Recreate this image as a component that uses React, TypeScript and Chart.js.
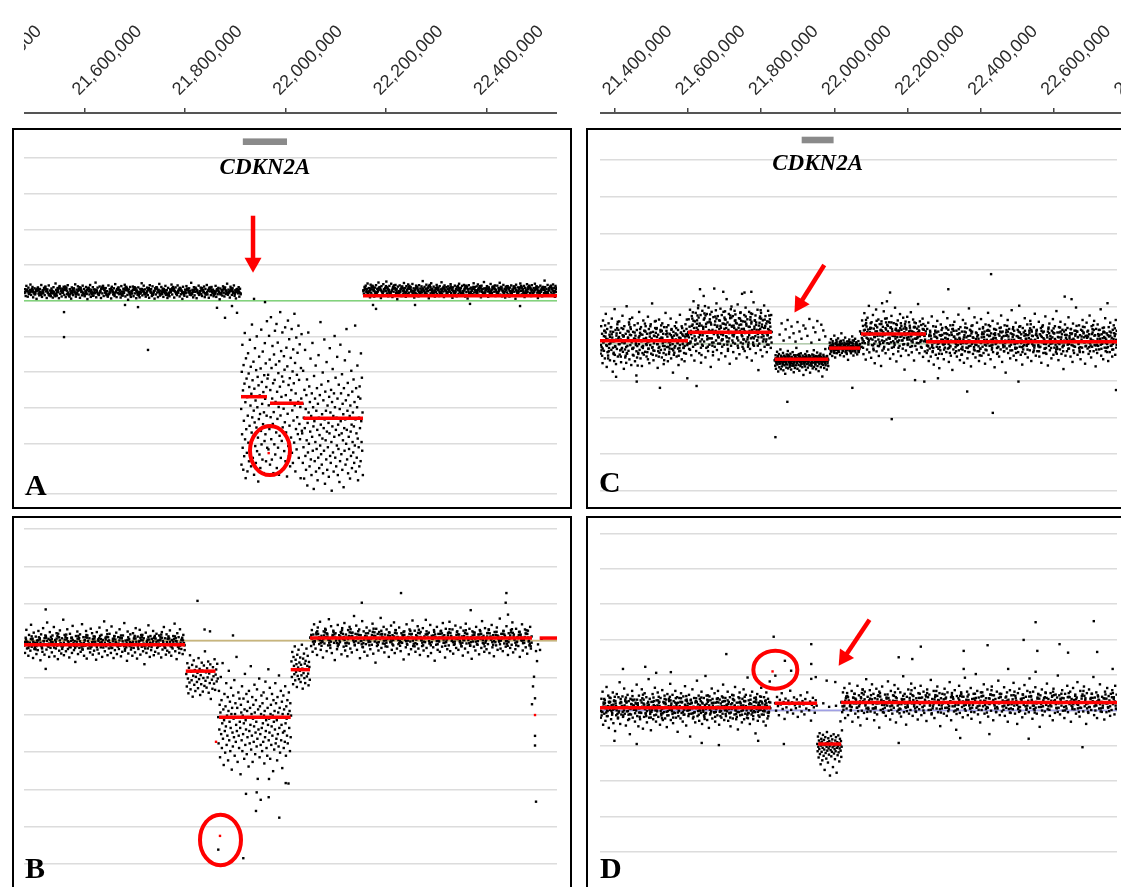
import React, { useEffect, useRef } from "react";
import { Chart, registerables } from "chart.js";

Chart.register(...registerables);

// ================= DATA =================
// genomic axis ticks (bp)
const TICKS_LEFT = [21400000, 21600000, 21800000, 22000000, 22200000, 22400000, 22600000];
const TICKS_RIGHT = [21200000, 21400000, 21600000, 21800000, 22000000, 22200000, 22400000, 22600000, 22800000];

// genomic window shown in each column (bp)
const RANGE_LEFT = [21479100, 22540800];
const RANGE_RIGHT = [21358950, 22784400];

const GENE_NAME = "CDKN2A";
const GENE_SPAN = [21915000, 22003000];

// horizontal grid values (log-ratio units)
const GRID_A = [4, 3, 2, 1, 0, -1, -2, -3, -4, -5.4];
const GRID_B = [3, 2, 1, 0, -1, -2, -3, -4, -5, -6];
const GRID_C = [5, 4, 3, 2, 1, 0, -1, -2, -3, -4];
const GRID_D = [5, 4, 3, 2, 1, 0, -1, -2, -3, -4];

// probe clouds: [start bp, end bp, low value, high value, probe values as % of low..high]
type Cloud = [number, number, number, number, string];

// ---------- Panel A ----------
const A_CLOUDS: Cloud[] = [
  [21479100, 21911400, -0.06, 0.55, `
45 62 31 77 54 28 69 40 58 83 36 51 72 25 47 66 39 60 18 55
70 42 34 63 49 81 27 57 44 68 35 74 52 22 61 46 79 38 56 30
65 43 24 71 50 37 88 59 33 67 48 21 76 41 53 29 64 45 73 36
58 26 69 39 80 47 32 62 55 19 70 44 35 66 51 84 28 60 42 75
37 57 23 68 49 34 78 46 63 30 54 72 40 17 65 52 38 81 27 59
48 71 33 61 44 92 25 56 69 41 36 74 50 22 64 43 77 31 58 46
67 35 53 28 79 40 62 47 20 73 55 38 66 31 85 49 26 60 44 70
39 58 24 76 51 33 64 45 82 29 57 68 36 14 61 48 72 27 54 42
74 30 59 43 67 21 56 37 70 50 25 63 46 89 34 52 78 40 61 28
45 69 35 57 23 80 48 62 31 75 41 53 19 66 38 71 47 26 59 86
33 55 72 40 64 27 50 43 77 36 58 22 68 45 30 61 49 83 38 56
63 24 52 70 41 35 79 46 57 29 67 39 54 18 73 48 32 60 44 76
28 62 47 66 37 55 91 42 59 25 71 34 50 64 21 57 45 78 36 53
69 40 31 58 49 74 26 63 43 81 38 56 23 67 52 35 72 47 60 30
54 44 77 27 61 39 68 51 16 65 42 58 33 75 46 29 70 41 55 87
37 60 48 24 73 53 36 66 45 79 32 57 20 62 50 43 71 28 64 39`],
  [21479100, 21911400, -0.06, 0.55, `
50 47 55 60 52 44 41 49 58 63 57 48 39 45 53 61 66 59 50 42
36 43 51 57 64 70 62 54 46 38 33 40 48 56 52 45 37 30 41 49
58 67 72 65 56 47 53 60 68 74 63 55 44 35 28 39 46 54 62 57
49 43 38 47 55 63 71 66 58 51 45 40 34 42 50 59 64 69 61 53
46 39 32 44 52 60 57 48 41 36 45 54 63 70 76 67 59 51 43 37
31 40 48 56 65 58 50 44 38 47 55 62 68 60 53 45 39 34 43 52
61 69 73 64 56 49 42 35 46 53 59 66 71 62 55 47 40 33 41 50
57 63 58 51 45 38 44 52 60 67 61 54 46 41 36 48 55 62 70 65
57 50 43 37 42 49 56 63 58 52 46 39 33 40 47 53 60 66 72 64
55 48 42 47 54 61 68 62 56 49 44 38 45 51 58 65 59 53 46 41
35 43 50 57 64 69 60 52 45 39 46 54 61 67 58 50 44 37 42 49
56 63 70 66 59 51 43 36 40 48 55 62 57 49 42 38 45 53 60 68
64 57 50 44 39 47 54 61 66 58 51 45 40 48 55 63 59 52 46 43`],
  [22154400, 22540800, -0.06, 0.61, `
52 38 66 29 71 44 57 80 35 61 48 23 75 42 55 33 68 50 26 63
41 73 36 58 47 84 30 64 53 20 69 45 37 77 56 32 60 49 88 39
62 27 54 70 43 35 79 51 24 66 46 59 31 74 40 57 15 67 48 34
72 44 56 28 63 50 38 82 45 61 25 69 53 36 76 42 58 30 65 47
33 78 49 60 22 55 41 71 37 64 52 27 73 46 59 34 68 43 90 51
29 66 40 57 75 35 62 48 19 70 54 39 81 44 58 31 67 50 26 61
45 74 36 53 63 28 69 42 56 85 38 60 47 24 72 51 33 65 40 57
68 30 59 46 77 41 54 21 64 49 35 71 43 58 27 66 52 37 79 45
55 62 32 70 48 39 74 53 26 61 44 67 18 56 73 40 59 34 63 50
36 57 81 43 65 29 52 68 41 76 33 55 47 62 23 71 45 58 38 86
60 42 54 31 69 47 25 64 57 37 78 50 40 66 32 59 46 72 28 53
44 71 38 61 50 83 34 56 65 27 48 74 39 58 22 67 53 43 69 35
57 26 63 48 72 40 55 30 68 46 61 17 75 51 37 64 44 59 33 80
49 66 35 58 43 70 24 62 52 39 77 45 56 31 68 41 60 28 73 54
38 61 47 79 32 55 67 42 20 64 50 36 71 46 58 27 63 53 40 92
65 33 57 44 74 37 60 51 29 68 43 56 35 76 48 62 25 70 45 59`],
  [22154400, 22540800, -0.06, 0.61, `
48 54 61 57 50 43 38 46 53 59 66 71 63 55 47 41 36 44 52 60
65 58 51 45 39 47 56 62 69 64 57 49 42 37 43 50 58 66 72 61
53 46 40 35 42 49 57 63 68 60 52 45 38 44 51 59 65 70 62 54
47 41 36 45 53 61 67 59 50 43 39 46 54 60 57 49 42 38 47 55
63 69 74 65 56 48 41 35 43 52 58 64 60 53 46 40 45 51 58 66
62 55 49 43 38 46 54 61 68 63 56 50 44 39 48 57 64 70 61 52
45 40 34 42 50 58 65 71 64 56 47 41 37 44 52 59 66 60 53 46
41 48 56 63 69 62 54 47 40 35 43 51 60 67 58 50 44 39 46 55
61 68 64 57 50 43 37 45 53 60 66 59 51 44 40 47 55 62 69 63
56 49 42 38 46 54 61 67 60 52 45 41 48 57 64 70 62 54 47 40
36 44 51 59 65 71 63 55 48 42 38 46 53 61 68 58 50 43 39 45
52 60 66 61 54 47 41 36 44 53 59 65 71 62 55 48 42 49 57 63`],
  [21911400, 21965100, -5.16, -0.48, `
45 12 67 30 83 22 56 9 71 38 17 60 90 27 49 4 75 33 63 19
52 8 41 78 25 66 14 58 35 86 21 47 70 11 54 31 95 40 62 16
29 73 44 6 57 37 81 23 50 13 68 34 88 20 46 64 28 2 59 39
76 18 53 42 10 69 32 92 24 61 48 15 79 36 55 7 43 65 26 84
51 30 72 14 58 41 97 22 63 35`],
  [21965100, 22032900, -5.02, -0.32, `
62 18 44 85 30 71 9 53 37 96 24 66 12 48 79 33 57 4 40 74
21 59 88 15 46 68 28 92 7 52 36 81 19 63 43 3 70 26 55 99
38 13 76 49 23 61 87 31 6 58 42 73 17 65 34 90 11 50 28 78
45 2 67 39 94 20 56 14 83 32 60 8 47 72 25 53 89 16 41 64
10 77 35 57 22 98 44 69 5 51 30 84 18 62 37 75 27 46 91 13
59 33 80 24 43 1 66 48 86 29`],
  [22032900, 22154400, -5.42, -0.6, `
35 52 18 71 27 44 9 60 38 83 22 49 14 57 31 66 5 41 24 93
47 29 62 16 53 36 78 20 45 11 58 33 87 25 50 39 3 68 42 19
55 30 74 13 48 26 61 37 8 52 21 80 44 15 34 57 28 99 40 23
63 17 46 32 70 12 54 38 25 89 43 6 59 31 48 20 76 36 14 51
27 65 41 10 56 35 84 22 47 18 60 30 2 53 39 72 24 45 13 58
33 91 50 21 67 37 16 44 28 79 55 11 40 26 63 34 7 49 19 86
42 58 23 35 69 14 52 31 46 4 61 38 25 77 43 17 54 29 95 37
20 48 64 12 57 33 26 82 45 9 51 36 22 71 40 15 59 30 47 24
66 39 18 53 28 97 43 13 61 35 21 50 74 32 8 56 27 44 16 62
38 55 19 81 42 30 67 25 47 11`],
];
const A_SEGMENTS: [number, number, number][] = [
  [21911400, 21963100, -2.69],
  [21969100, 22035500, -2.87],
  [22035500, 22154400, -3.29],
  [22154400, 22540800, 0.14],
];
const A_OUTLIERS: [number, number][] = [
  [21558800, -0.32], [21558800, -1.02], [21726100, -1.38], [21706200, -0.18], [21879500, -0.48],
  [21863500, -0.2], [21903400, -0.34], [21893400, -0.15], [21680300, -0.12], [21937300, 0.05],
  [21959200, -0.04], [22174300, -0.12], [22180300, -0.23], [22258000, -0.12], [22367500, -0.09],
  [22467200, -0.15],
];
const A_RED_PROBES: [number, number][] = [[21966500, -4.27]];
const A_ARROWS: [number, number][][] = [[[21935300, 2.38], [21935300, 0.78]]];
const A_CIRCLES: [number, number][] = [[21969100, -4.2]];

// ---------- Panel B ----------
const B_CLOUDS: Cloud[] = [
  [21479100, 21799800, -0.8, 0.7, `
44 31 58 72 39 50 26 63 47 35 81 42 55 22 67 38 49 60 29 53
36 70 45 57 18 64 41 33 75 52 28 46 61 37 85 43 56 24 68 40
51 32 62 47 77 25 54 39 66 44 20 59 35 71 48 30 57 42 90 27
63 46 34 55 73 38 50 23 65 41 58 31 79 45 36 52 15 61 43 69
29 56 40 64 33 48 82 37 59 26 53 44 70 21 62 39 47 57 32 74
42 66 28 51 35 60 45 19 68 37 55 30 76 49 41 63 24 54 46 87
34 58 43 71 27 52 39 65 48 31 78 40 56 22 61 36 50 67 29 45
59 38 73 44 25 57 33 62 47 84 35 53 41 17 69 30 55 43 64 37
49 26 66 40 58 32 75 46 21 60 38 51 72 28 54 42 63 34 57 11
45 67 31 52 39 80 43 24 61 36 56 48 70 27 59 33 46 65 40 53
30 62 44 55 23 68 37 50 77 41 57 28 64 35 47 58 32 71 43 26
54 39 61 46 83 34 52 20 66 42 59 31 73 45 38 56 29 63 48 36`],
  [21479100, 21799800, -0.63, 0.56, `
44 49 55 50 42 36 41 48 56 62 57 50 43 38 33 40 47 53 60 55
48 41 35 43 51 58 64 59 52 45 39 46 54 61 56 49 42 37 44 50
57 63 68 60 53 46 40 34 41 48 55 61 66 58 51 44 38 45 52 59
54 47 41 36 43 50 57 63 58 51 45 39 33 40 47 54 60 65 59 52
46 40 35 42 49 56 62 57 50 44 38 45 52 58 63 56 49 43 37 42
48 55 61 67 60 53 47 41 36 44 51 57 62 55 48 42 39 46 53 59
64 58 51 45 40 34 41 48 54 60 56 49 43 37 44 50 57 63 57 50
44 39 45 52 59 65 60 53 46 40 35 42 49 55 61 55 48 43 38 45
51 58 63 57 50 44 39 46 53 60 66 59 52 45 41 36 43 49 56 62
57 50 44 38 43 50 56 62 58 51 46 40 35 41 48 54 59 53 47 42`],
  [21801800, 21865600, -1.69, -0.18, `
52 30 71 44 18 63 37 85 25 56 41 68 12 49 76 33 59 22 47 65
38 54 27 80 43 61 15 50 34 72 58 21 45 67 31 92 40 55 28 62
46 74 19 53 36 69 8 57 42 26 64 48 35 78 24 51 60 39 70 44`],
  [21865600, 22011400, -4.34, -0.23, `
55 38 72 47 63 29 58 81 44 66 35 51 90 41 60 24 53 70 46 32
62 49 77 37 56 43 68 27 59 85 40 52 65 33 48 74 57 21 61 45
36 69 54 42 79 30 57 64 39 50 94 46 61 26 55 71 43 35 67 52
48 18 63 58 40 75 33 56 44 67 51 28 60 83 37 53 47 70 31 59
42 65 55 23 72 46 38 61 50 88 34 57 43 68 26 54 63 39 49 76
58 31 45 66 52 36 73 41 15 60 47 55 80 29 62 44 37 57 69 48
33 64 51 39 71 56 25 59 42 78 46 53 35 67 30 61 50 86 40 54
45 74 28 57 63 37 49 70 43 56 20 66 52 34 59 47 77 38 64 41
53 27 68 44 58 36 82 48 61 32 55 72 40 50 65 22 57 45 69 35
60 46 39 75 51 30 62 54 43 66 38 57 12 71 48 59 33 64 42 56`],
  [22011400, 22048800, -1.5, -0.02, `
63 35 80 48 22 71 55 40 90 29 66 44 58 17 75 37 52 84 31 61
46 70 26 57 38 93 50 14 68 42 77 33 59 24 64 49 86 36 55 73
41 20 62 53 30`],
  [22048800, 22491000, -0.9, 0.8, `
57 44 69 35 62 78 51 40 65 30 73 55 47 82 38 60 52 26 67 48
71 58 36 63 45 86 53 41 75 33 59 68 49 22 64 56 39 77 46 61
50 66 31 72 55 43 80 37 62 57 28 69 48 74 40 59 34 65 53 91
45 63 76 38 56 49 70 25 61 52 83 42 67 35 58 47 73 29 64 54
68 39 57 46 79 32 60 51 18 71 44 63 37 66 55 88 41 59 48 74
34 62 53 70 43 57 27 65 50 76 38 61 45 81 33 69 56 40 58 47
73 52 36 64 49 60 23 67 54 42 78 46 58 31 70 51 39 63 84 44
56 68 35 61 47 75 40 57 30 66 53 44 72 37 59 50 85 41 62 28
65 48 77 33 60 55 42 69 21 58 46 74 38 63 51 35 67 57 43 80
49 61 26 71 54 39 64 45 82 36 60 52 70 32 57 47 76 41 66 55
38 62 50 73 44 59 29 68 53 40 79 48 63 34 56 71 45 58 24 67
51 43 65 37 74 57 46 62 31 69 55 41 83 49 60 35 72 52 39 64
47 70 33 58 54 77 42 61 28 66 50 45 73 38 59 53 87 40 63 56
36 67 48 60 43 75 52 30 64 57 41 69 46 81 34 62 55 39 71 50
58 44 66 27 61 53 78 37 56 49 70 42 63 32 68 51 45 74 40 59`],
  [22048800, 22491000, -0.71, 0.67, `
57 62 55 49 44 50 56 63 69 64 58 52 47 41 48 54 61 67 72 65
59 53 47 42 49 56 62 68 63 57 51 46 40 45 52 59 66 71 64 58
52 46 41 47 54 60 67 73 66 60 54 48 43 50 57 63 69 62 56 50
44 39 46 53 60 65 59 53 48 42 49 55 62 68 74 67 60 54 47 43
48 56 63 70 64 57 51 45 40 47 54 61 67 60 53 49 44 52 59 66
71 65 58 52 46 41 48 55 62 68 62 56 50 45 51 58 64 70 63 57
51 45 40 46 53 59 66 72 65 58 52 47 42 49 56 63 69 64 57 50
46 42 48 55 61 68 63 56 50 44 51 57 64 70 65 59 53 47 41 48
54 61 67 73 66 59 53 48 43 49 55 62 69 63 57 51 45 40 47 53
60 66 71 64 58 52 46 41 48 54 61 67 62 55 49 44 50 57 63 69
64 58 52 45 40 47 53 59 66 72 65 59 54 48 43 50 56 62 68 61
55 49 44 51 57 64 70 63 56 50 45 41 48 54 61 67 73 66 59 53
47 42 49 56 62 68 63 57 51 46 52 58 65 71 64 57 51 45 40 47`],
];
const B_SEGMENTS: [number, number, number][] = [
  [21479100, 21799800, -0.11],
  [21801400, 21860600, -0.82],
  [21867500, 22010400, -2.06],
  [22010400, 22048800, -0.78],
  [22048800, 22491000, 0.07],
  [22506200, 22540800, 0.07],
];
const B_OUTLIERS: [number, number][] = [
  [21522300, 0.84], [21522300, -0.76], [21824700, 1.07], [21895400, 0.14], [21849600, 0.25], [21838800, 0.3],
  [22230100, 1.28], [22152000, 1.02], [22368900, 0.82], [22438600, 1.02], [22440000, 1.28], [22443200, 0.7],
  [22499000, -0.28], [22501000, -0.55], [22495000, -0.97], [22493000, -1.23], [22497000, -1.55],
  [22491000, -1.71], [22497000, -2.56], [22497000, -2.82], [22499000, -4.33],
  [22503000, -0.1], [22507000, -0.25], [22510000, 0.05],
  [21921300, -4.12], [21942600, -4.08], [21950600, -4.28], [21941200, -4.58], [21966500, -4.21],
  [21987600, -4.76], [21915900, -5.85], [21866100, -5.62], [21967100, -3.72], [22000400, -3.83],
];
const B_RED_PROBES: [number, number][] = [[21869500, -5.25], [21861600, -2.72], [22497000, -2.0]];
const B_ARROWS: [number, number][][] = [];
const B_CIRCLES: [number, number][] = [[21870500, -5.36]];

// ---------- Panel C ----------
const C_CLOUDS: Cloud[] = [
  [21358950, 21601600, -1.25, 1.3, `
52 38 67 45 59 28 73 50 41 62 33 56 80 47 24 64 53 36 70 44
58 31 49 66 42 75 55 19 61 39 51 85 46 63 27 57 43 69 35 54
48 72 37 60 53 29 65 44 78 40 56 22 67 50 34 59 45 88 38 62
55 41 71 32 58 47 64 26 52 76 43 61 36 54 68 30 57 49 15 63
46 70 39 55 82 42 60 33 66 51 25 58 44 73 37 53 62 40 67 48
35 59 50 77 43 64 28 56 47 69 38 54 91 45 61 31 57 41 72 52
60 36 65 48 23 58 44 74 39 53 63 42 55 34 70 49 59 27 66 46
51 81 37 62 45 56 30 68 50 40 59 47 75 33 64 43 54 18 61 57
39 67 46 53 71 35 58 49 63 26 55 44 79 41 60 52 32 65 48 57
44 62 30 56 69 38 51 74 47 59`],
  [21358950, 21601600, -1.2, 1.2, `
53 48 42 36 44 51 58 64 70 62 55 47 40 33 41 49 57 63 68 60
52 45 38 30 37 46 54 61 67 74 65 57 49 42 35 43 51 59 66 58
50 43 36 28 39 47 56 63 71 77 68 59 51 44 37 45 54 62 55 48
41 34 25 38 49 58 66 60 53 46 39 47 55 64 72 63 56 48 40 32
44 52 61 69 62 54 45 37 42 50 58 67 75 66 57 49 41 35 46 55
63 70 64 56 47 39 31 43 52 60 68 61 53 46 38 44 51 59 65 57
49 42 37 45 53 61 67 59 51 44 36 41 48 56 62 69 60 52 45 39
47 54 60 66 58 50`],
  [21601600, 21832800, -1.15, 1.7, `
48 63 35 56 72 41 52 29 66 45 58 37 80 50 24 61 43 69 33 55
62 40 53 76 46 31 59 48 67 22 57 44 71 38 54 85 42 64 50 27
56 36 68 47 60 33 74 51 39 63 45 18 58 70 41 53 29 65 49 92
37 61 52 43 78 34 57 66 46 25 62 50 40 73 55 31 67 44 59 48
70 39 54 63 28 58 47 82 42 60 35 53 68 45 21 64 51 38 75 56
43 66 32 57 49 71 40 62 53 26 59 46 77 36 55 64 30 52 69 41
58 48 87 37 61 44 54 67 33 50 74 42 57 27 63 46 39 56 70 52
35 65 45 59 24 68 51 41 79 38 56 62 47 31 60 53 43 72 49 15
57 40 64 54 34 69 46 58 28 62 50 44 76 37 55 66 42 59 32 61
48 71 39 53 45 63 56 36 67 51`],
  [21601600, 21832800, -1.1, 1.7, `
50 45 39 33 41 48 56 63 69 61 54 46 38 43 51 58 66 73 64 56
48 41 35 28 38 47 55 62 68 75 66 58 50 43 36 44 52 60 67 59
51 44 37 31 40 49 57 65 71 63 55 47 39 45 53 61 56 48 42 36
43 50 58 64 70 62 54 45 38 32 41 49 57 66 72 64 56 47 40 46
54 61 67 59 52 44 37 42 50 57 63 69 61 53 46 39 34 43 51 60
65 58 50 43 36 40 47 55 62 68 60 52 45 38 44 53 61 66 57 49
42 37 45 52 59 65 71 63 55 48 41 46 54 62 56 49 43 38 47 53
60 66 59 51 45 40`],
  [21840500, 21988800, -1.06, -0.02, `
58 44 71 36 63 52 80 47 66 29 57 74 40 61 50 86 35 68 55 42
64 49 77 32 59 70 45 56 23 67 53 39 73 60 47 82 37 62 54 69
41 58 75 50 34 65 57 44 79 62 48 27 71 55 38 66 59 45 90 52
63 36 57 72 46 60 31 68 53 43 76 58 49 64 40 70 56 20 61 51
67 42 74 55 33 62 48 81 57 39 65 53 71 45 59 26 68 50 63 44
56 73 37 60 52 84 41 66 58 47 69 35 62 54 78 43 57 64 30 70
48 61 55 75 40 67 51 59 16 63 46 72 56 38 65 53 87 45 60 57
34 69 50 62 43`],
  [21840500, 21988800, -1.06, -0.02, `
58 62 55 50 57 64 69 61 54 49 56 63 70 66 59 52 47 54 61 67
60 53 48 55 62 68 72 65 58 51 46 53 60 67 63 57 50 44 52 59
66 71 64 57 51 56 62 69 74 67 60 54 48 55 61 65 58 52 47 53
60 66 70 63 56 50 57 63 69 64 58 51 45 52 59 65 71 66 60 54
49 55 62 68 63 57 52 58 64 70 65 59 53 48 54 61 67 62 56 50
57 63 68 61 55 59`],
  [21851500, 21982800, 0.0, 0.7, `
35 78 12 55 91 24 66 40 8 83 47 19 70 58 30 95 4 62 44 87 15 73 51 28`],
  [21990700, 22076600, -0.63, 0.42, `
47 62 33 55 71 40 52 28 66 45 58 37 80 50 24 61 43 69 35 54
49 73 39 57 45 64 30 56 48 86 36 60 52 42 68 27 55 46 75 38
59 51 33 65 44 18 57 48 70 41 63 53 35 62 46 78 40 54 29 67
50 43 72 37 58 61 45 32 56 49 66 39 53 47 91`],
  [21990700, 22076600, -0.7, 0.5, `
48 52 45 40 47 54 59 53 47 42 37 44 51 57 62 56 49 43 39 46
53 58 64 57 50 45 41 48 55 60 54 48 43 38 45 52 58 63 57 50
44 40 47 53 59 65 58 51 46 42 49 55 61 56 50 45 39 44 51 57`],
  [22078500, 22257700, -1.15, 1.3, `
58 43 72 51 66 35 61 80 47 56 29 69 53 40 75 62 48 88 37 59
64 52 31 70 45 57 78 41 63 54 25 67 49 84 38 60 55 44 73 33
57 68 46 61 22 71 50 39 65 59 82 43 56 74 36 62 51 93 47 66
40 58 70 53 30 64 48 77 42 60 55 35 69 57 45 86 52 63 27 67
49 72 38 59 61 44 79 54 33 66 50 57 41 75 63 46 18 68 56 39
62 53 76 45 58 34 70 51 64 43 81 55 37 60 48 73 59 28 65 52
44 69 57 40 63 54 90 47 61 36 71 56 50 67 42 58 74 32 62 49
55 38 66 60`],
  [22078500, 22257700, -1.0, 1.2, `
57 52 46 40 48 55 62 68 74 66 59 51 44 49 56 63 70 64 58 50
43 37 45 53 60 67 73 65 57 50 42 47 55 62 69 61 54 46 39 48
56 64 71 76 68 60 52 45 51 58 65 71 63 55 48 41 46 54 62 69
61 53 47 40 49 57 64 70 62 55 49 44 52 59 66 72 64 57 50 45
53 60 67 61 54 48 42 50 58 65 71 65 58 51 46 52 59 66 60 54
47 41 49 56 63 69 62 55 50 57`],
  [22257700, 22784400, -1.15, 1.25, `
50 37 64 45 71 28 56 42 60 33 53 78 46 39 67 24 58 49 62 35
55 44 73 31 61 48 20 57 40 69 52 36 65 47 83 30 59 43 54 66
38 51 76 42 63 27 57 45 68 34 60 50 18 64 41 55 72 37 53 47
62 33 58 46 80 40 54 29 66 49 35 61 44 74 52 26 57 39 70 48
43 65 31 56 51 87 38 63 45 22 59 47 68 36 54 41 77 50 32 60
46 71 39 57 53 28 64 42 49 75 34 58 44 66 37 55 61 25 69 50
40 62 48 82 35 56 45 67 30 59 52 43 73 38 54 64 21 57 47 63
51 36 70 44 58 33 65 49 41 79 53 27 61 46 56 39 68 48 15 60
42 57 74 37 52 64 45 31 59 50 85 40 55 66 34 62 47 43 71 29
56 48 63 38 54 90 44 67 35 58 51 24 65 41 60 46 76 36 53 57
45 69 32 57 49 62 40 73 52 28 61 47 56 38 66 43 81 50 34 59
63 39 54 46 72 33 58 44 65 26 55 49 68 37 61 52 42 78 47 36
57 50 23 64 45 70 40 56 53 31 62 48 75 35 59 43 67 51 38 84
44 60 55 29 66 47 41 72 52 36 58 63 45 19 61 49 69 34 54 57
39 65 48 77 42 56 51 33 64 46 59 27 70 53 37 62 44 58 88 50
61 35 55 47 68 40 57 30 63 52 43 74 38 59 49 66 25 56 45 71
54 42 62 36 58 79 48 53 32 67 44 60 51 39 73 46 57 22 64 50
37 69 45 56 41 63 53 86 34 58 48 65 30 61 55 43 76 39 52 59
47 57 28 66 50 38 71 45 60 54 33 63 41 68 49 56 35 74 43 62`],
  [22257700, 22784400, -1.05, 1.15, `
50 45 39 44 51 58 63 57 50 43 37 42 49 56 62 68 61 54 47 41
35 43 50 57 64 58 52 46 40 47 54 60 66 59 53 47 42 36 44 51
58 65 70 63 56 49 43 38 45 52 59 65 60 53 47 41 34 40 48 55
62 67 61 55 48 42 37 44 51 57 63 69 62 55 49 43 39 46 53 60
56 50 44 38 33 41 48 55 61 66 59 52 46 40 45 52 58 64 70 63
57 51 45 40 46 53 59 65 60 54 48 42 36 43 50 57 62 67 61 55
49 43 38 44 51 57 64 69 62 56 50 44 39 46 52 59 65 58 52 47
41 36 42 49 56 62 68 61 54 48 43 37 44 50 57 63 59 53 46 40
47 54 60 66 71 64 57 51 45 39 45 52 58 63 57 50 44 38 43 50
57 63 68 61 54 47 41 36 42 49 55 62 67 60 53 47 42 48 55 61
66 60 53 46 40 35 41 48 55 61 67 62 55 49 43 38 45 51 58 64
58 52 46 41 47 54 60 65 59 52 45 39 44 51 57 63 69 62 55 48
42 37 43 50 56 63 68 61 55 49 44 50 57 62 56 49 43 38 45 52
59 65 70 64 57 50 45 40 46 53 59 64 58 51 46 41 47 54 61 67
61 54 48 42 37 43 50 56 62 57 51 45 40 47 53 60 66 59 52 46`],
];
const C_SEGMENTS: [number, number, number][] = [
  [21358950, 21601600, 0.08],
  [21601600, 21832800, 0.31],
  [21840500, 21988800, -0.42],
  [21990700, 22076600, -0.12],
  [22078500, 22257700, 0.26],
  [22257700, 22784400, 0.05],
];
const C_OUTLIERS: [number, number][] = [
  [22437200, 1.89], [22441900, -1.88], [22163300, -2.05], [21875500, -1.58], [22054700, -1.2],
  [22371300, -1.3], [22781700, -1.26], [22319300, 1.48], [21634700, 1.48], [21698800, 1.41],
  [21757300, 1.39], [21776200, 1.41], [22158700, 1.39], [22136800, 1.1], [22640200, 1.28],
  [22659100, 1.21], [22758200, 1.1], [21460200, -1.03], [21524200, -1.2], [21625200, -1.15],
  [21599700, -0.94], [21403300, -0.9], [22253100, -1.03], [22290800, -0.94], [22512700, -1.03],
  [22227600, -0.99], [21842600, -2.54],
];
const C_RED_PROBES: [number, number][] = [];
const C_ARROWS: [number, number][][] = [[[21977300, 2.14], [21895200, 0.85]]];
const C_CIRCLES: [number, number][] = [];

// ---------- Panel D ----------
const D_CLOUDS: Cloud[] = [
  [21358950, 21829300, -1.05, 1.15, `
50 38 62 45 71 29 55 43 60 34 52 77 47 40 66 25 57 48 63 36
54 44 70 31 59 49 21 56 41 68 51 37 64 46 83 30 58 42 53 65
39 52 75 43 61 28 57 46 67 35 59 50 17 62 42 55 72 38 53 48
61 33 57 47 80 40 54 27 66 50 36 60 44 74 52 24 56 39 69 49
43 64 32 56 51 87 38 62 45 22 58 48 68 36 54 41 76 50 33 60
46 70 39 57 53 29 63 43 49 73 35 58 45 66 37 55 61 26 68 51
41 62 48 81 35 56 46 67 31 59 52 44 72 38 54 64 20 57 47 63
51 37 69 44 58 33 65 49 42 78 53 28 61 47 56 40 67 48 14 60
43 57 74 37 52 63 45 32 59 50 85 40 55 66 34 62 47 44 71 30
56 48 63 39 54 91 44 66 35 58 51 25 65 42 60 46 75 37 53 57
45 69 33 57 49 62 41 72 52 29 61 47 56 38 65 43 80 50 35 59
63 40 54 46 71 34 58 44 64 27 55 49 67 37 61 52 42 77 47 36
57 50 23 64 45 70 41 56 53 32 62 48 74 36 59 43 67 51 38 89
44 60 55 30 66 47 42 71 52 36 58 63 45 18 61 49 68 34 54 57
39 65 48 76 42 56 51 33 64 46 59 28 70 53 37 62 44 58 84 50`],
  [21358950, 21829300, -0.95, 1.05, `
51 46 40 45 52 58 63 57 50 44 39 46 53 59 65 59 52 46 41 48
55 61 66 60 53 47 42 37 44 51 57 63 58 52 45 40 47 54 60 65
59 52 46 41 35 42 49 56 62 67 61 54 48 43 49 56 62 57 50 44
38 44 51 58 64 69 62 55 49 43 39 46 53 59 55 48 42 37 45 52
59 65 60 53 47 41 47 54 61 66 59 52 46 40 36 43 50 57 63 58
51 45 40 46 53 60 66 61 54 48 42 37 44 51 58 64 57 50 44 39
46 53 59 64 58 51 45 41 48 55 61 67 60 53 47 42 49 56 62 57
50 43 38 44 51 58 64 59 52 46 41 47 54 60 65 58 51 45 40 35
42 49 56 62 68 61 54 48 43 50 57 63 57 50 44 38 45 52 59 64
58 51 45 39 46 53 59 65 60 53 47 42 48 55 61 56 49 43 37 44
51 57 63 68 61 54 48 42 38 45 52 58 64 59 52 46 41 47 54 60
66 60 53 47 41 36 43 50 57 62 56 49 44 39 46 53 59 65 58 52
45 40 47 54 60 66 59 52 46 41 48 55 61 57 50 44 39 45 52 58`],
  [21840500, 21957600, -0.5, 0.66, `
60 42 75 53 31 68 57 84 46 63 22 71 50 38 66 58 90 44 62 35
74 55 48 69 27 61 52 79 40 65 57 33 70 47 86 59 43 64 18 56
73 50 37 67 54`],
  [21957600, 22026500, -2.08, -0.5, `
71 58 84 66 47 77 62 90 53 73 35 68 80 57 75 42 64 87 70 50
78 61 25 69 83 55 72 45 66 92 59 74 38 81 63 52 76 67 15 70
60 85 49 73 57 79 65 30 71 88 54 68 62 44 77 58 83 70 20 64
74 51 67 86 56 72 40 63 80 69 59 76 48 66 95`],
  [22023800, 22784400, -0.9, 1.15, `
55 41 68 49 74 33 60 46 63 37 57 80 51 44 70 28 61 53 66 39
58 47 77 34 64 52 23 60 43 72 56 40 69 50 86 32 62 45 57 71
42 54 79 46 66 30 60 48 73 38 63 53 20 67 44 58 76 41 56 51
65 36 61 50 83 43 57 31 70 53 39 64 47 78 56 27 60 42 73 52
46 68 35 59 54 90 41 66 48 24 62 51 72 39 57 44 80 53 36 63
49 74 42 60 56 31 67 45 52 77 37 61 48 69 40 58 64 29 72 54
44 65 51 85 38 59 49 70 33 62 55 46 76 41 57 67 22 60 50 66
54 39 73 47 61 36 68 52 45 82 56 30 64 49 59 42 71 51 17 63
45 60 77 40 55 66 48 34 62 53 88 43 58 69 37 65 50 46 74 32
59 51 66 41 57 93 47 70 38 61 54 27 68 44 63 49 79 39 56 60
48 72 35 60 52 65 43 76 55 30 64 50 59 41 69 46 84 53 37 62
66 42 57 49 75 36 61 47 68 28 58 52 71 40 64 55 45 81 50 39
60 53 25 67 48 73 43 59 56 34 65 51 78 39 62 46 70 54 41 87
47 63 58 32 69 50 44 75 55 39 61 66 48 21 64 52 72 37 57 60
42 68 51 80 45 59 54 36 67 49 62 30 73 56 40 65 47 61 91 53
64 38 58 50 71 43 60 33 66 55 46 77 41 62 52 69 28 59 48 74
57 45 65 39 61 82 51 56 35 70 47 63 54 42 76 49 60 25 67 53
40 72 48 59 44 66 56 89 37 61 51 68 33 64 58 46 79 42 55 62
50 60 31 69 53 41 74 48 63 57 36 66 44 71 52 59 38 77 46 65`],
  [22023800, 22784400, -0.85, 1.1, `
54 49 44 50 57 63 68 62 55 49 43 48 55 61 67 60 53 47 42 49
56 62 68 73 66 59 52 46 41 47 54 60 65 59 52 46 40 46 53 59
65 70 63 57 51 45 40 47 53 60 66 61 55 49 44 50 57 64 69 62
56 50 44 39 45 52 58 64 59 53 47 42 48 55 61 67 72 65 58 52
46 41 48 54 61 67 61 54 48 43 50 56 63 68 62 56 50 44 39 46
52 59 65 71 64 58 51 45 40 46 53 59 66 60 54 47 42 49 56 62
68 62 55 49 43 38 45 51 58 64 69 63 56 50 45 51 57 63 58 52
46 41 47 54 60 67 61 55 49 44 50 57 63 69 64 57 51 45 40 47
53 60 66 72 65 58 52 46 41 48 54 61 67 62 55 49 44 50 56 63
57 51 45 40 46 52 59 65 70 64 57 51 45 41 48 54 60 66 61 55
49 44 50 57 63 69 63 56 50 45 40 47 53 60 66 60 54 48 43 49
55 62 68 61 55 49 44 51 57 64 70 65 58 52 46 41 47 54 60 67
61 54 48 43 49 56 62 68 62 56 50 45 52 58 64 59 52 46 41 47
54 60 66 71 64 58 52 46 41 48 55 61 67 61 55 49 43 50 56 63
58 52 46 41 47 54 60 66 60 53 47 42 49 55 62 68 62 56 50 45`],
];
const D_SEGMENTS: [number, number, number][] = [
  [21358950, 21829300, 0.074],
  [21840500, 21957600, 0.2],
  [21960300, 22023800, -0.95],
  [22023800, 22784400, 0.22],
];
const D_OUTLIERS: [number, number][] = [
  [21837800, 2.08], [21868700, 1.4], [21885900, 1.12], [21842400, 0.98], [21941400, 1.87],
  [21941400, 1.31], [21941400, 0.89], [21953800, 0.94], [21707200, 1.59], [21554300, 1.08],
  [21483700, 1.23], [21422300, 1.17], [21513800, 1.06], [21639400, -0.92], [21686700, -0.98],
  [21795000, -0.86], [21398700, -0.86], [21460200, -0.95], [21865900, -0.95],
  [21974600, 0.2], [21990700, 0.1], [22007700, 0.8], [22009600, 0.13], [22021900, -0.31], [21983900, 0.84],
  [22560000, 2.49], [22720400, 2.52], [22527000, 1.99], [22427600, 1.84], [22243500, 1.8],
  [22361700, 1.68], [22626000, 1.87], [22649500, 1.63], [22729700, 1.65], [22564700, 1.68],
  [22182500, 1.5], [22220000, 1.45], [22484300, 1.17], [22560000, 1.09], [22772400, 1.17],
  [22361700, 1.17], [22182500, -0.92], [22689200, -1.04], [22432500, -0.67], [22352100, -0.78],
  [22540900, -0.8],
];
const D_RED_PROBES: [number, number][] = [[21834700, 1.1]];
const D_ARROWS: [number, number][][] = [[[22102000, 2.56], [22017000, 1.26]]];
const D_CIRCLES: [number, number][] = [[21842400, 1.15]];

// ================= LAYOUT / STYLE =================
const RED = "#ff0000";
const DOT_R = 1.7;

type PanelCfg = {
  key: string;
  canvas: [number, number, number, number];
  area: [number, number, number, number];
  xr: number[];
  yr: [number, number];
  grid: number[];
  base: string;
  letter: [number, number];
  gene?: { bar: number; label: number };
  circleR: [number, number];
  clouds: Cloud[];
  segments: [number, number, number][];
  outliers: [number, number][];
  red: [number, number][];
  arrows: [number, number][][];
  circles: [number, number][];
};

const PANELS: PanelCfg[] = [
  {
    key: "A", canvas: [14, 130, 556, 378], area: [24, 135, 557, 494], xr: RANGE_LEFT, yr: [-5.415, 4.641],
    grid: GRID_A, base: "#82d47c", letter: [25, 495], gene: { bar: 141.7, label: 174.3 }, circleR: [20, 24.5],
    clouds: A_CLOUDS, segments: A_SEGMENTS, outliers: A_OUTLIERS, red: A_RED_PROBES, arrows: A_ARROWS, circles: A_CIRCLES,
  },
  {
    key: "C", canvas: [588, 130, 533, 378], area: [600, 135, 1121, 496], xr: RANGE_RIGHT, yr: [-4.139, 5.671],
    grid: GRID_C, base: "#b4cdae", letter: [599, 492], gene: { bar: 140, label: 170 }, circleR: [20, 24],
    clouds: C_CLOUDS, segments: C_SEGMENTS, outliers: C_OUTLIERS, red: C_RED_PROBES, arrows: C_ARROWS, circles: C_CIRCLES,
  },
  {
    key: "B", canvas: [14, 519, 556, 368], area: [24, 522, 557, 887], xr: RANGE_LEFT, yr: [-6.517, 3.164],
    grid: GRID_B, base: "#c8b57c", letter: [25, 878], circleR: [20.5, 25.3],
    clouds: B_CLOUDS, segments: B_SEGMENTS, outliers: B_OUTLIERS, red: B_RED_PROBES, arrows: B_ARROWS, circles: B_CIRCLES,
  },
  {
    key: "D", canvas: [588, 519, 533, 368], area: [600, 522, 1121, 887], xr: RANGE_RIGHT, yr: [-4.875, 5.292],
    grid: GRID_D, base: "#a0a0e4", letter: [600, 878], circleR: [22, 19],
    clouds: D_CLOUDS, segments: D_SEGMENTS, outliers: D_OUTLIERS, red: D_RED_PROBES, arrows: D_ARROWS, circles: D_CIRCLES,
  },
];

const BOXES: [number, number, number, number][] = [
  [12, 128, 560, 381],
  [586, 128, 600, 381],
  [12, 516, 560, 400],
  [586, 516, 600, 400],
];

type AxisCfg = { wrap: [number, number]; canvasLeft: number; canvasWidth: number; height: number; range: number[]; x0: number; x1: number; ticks: number[] };
const AXES: AxisCfg[] = [
  { wrap: [24, 533], canvasLeft: -40, canvasWidth: 660, height: 118, range: RANGE_LEFT, x0: 24, x1: 557, ticks: TICKS_LEFT },
  { wrap: [600, 521], canvasLeft: 540, canvasWidth: 660, height: 118, range: RANGE_RIGHT, x0: 600, x1: 1121, ticks: TICKS_RIGHT },
];

// ================= HELPERS =================
function cloudPoints(c: Cloud) {
  const [from, to, lo, hi, s] = c;
  const vals = s.trim().split(/\s+/).map(Number);
  const n = vals.length;
  return vals.map((d, i) => ({ x: from + ((i + 0.5) / n) * (to - from), y: lo + (d / 99) * (hi - lo) }));
}

function drawArrow(ctx: CanvasRenderingContext2D, x1: number, y1: number, x2: number, y2: number) {
  const dx = x2 - x1, dy = y2 - y1;
  const len = Math.hypot(dx, dy) || 1;
  const ux = dx / len, uy = dy / len;
  const head = 15, half = 8.5;
  const bx = x2 - ux * head, by = y2 - uy * head;
  ctx.strokeStyle = RED;
  ctx.lineWidth = 4.5;
  ctx.lineCap = "butt";
  ctx.beginPath();
  ctx.moveTo(x1, y1);
  ctx.lineTo(bx + ux, by + uy);
  ctx.stroke();
  ctx.fillStyle = RED;
  ctx.beginPath();
  ctx.moveTo(x2, y2);
  ctx.lineTo(bx - uy * half, by + ux * half);
  ctx.lineTo(bx + uy * half, by - ux * half);
  ctx.closePath();
  ctx.fill();
}

function makeAxis(canvas: HTMLCanvasElement, a: AxisCfg) {
  const bpp = (a.range[1] - a.range[0]) / (a.x1 - a.x0);
  const min = a.range[0] - (a.x0 - a.canvasLeft) * bpp;
  const max = a.range[0] + (a.canvasLeft + a.canvasWidth - a.x0) * bpp;
  return new Chart(canvas, {
    type: "scatter",
    data: { datasets: [] },
    options: {
      responsive: false,
      maintainAspectRatio: false,
      animation: false,
      events: [],
      layout: { padding: 0 },
      plugins: { legend: { display: false }, tooltip: { enabled: false } },
      scales: {
        x: {
          type: "linear",
          position: "top",
          min,
          max,
          afterBuildTicks: (s: any) => {
            s.ticks = a.ticks.filter((v) => v >= min && v <= max).map((v) => ({ value: v }));
          },
          ticks: {
            autoSkip: false,
            minRotation: 45,
            maxRotation: 45,
            padding: 8,
            labelOffset: 6,
            color: "#2b2b2b",
            font: { family: '"Liberation Sans", Arial, sans-serif', size: 18 },
            callback: (v: any) => Number(v).toLocaleString("en-US"),
          },
          grid: { drawOnChartArea: false, drawTicks: true, tickLength: 5, color: "#444", lineWidth: 1.5 },
          border: { display: true, color: "#555", width: 2 },
          afterFit: (s: any) => {
            s.height = 113;
            s.paddingLeft = 0;
            s.paddingRight = 0;
          },
        },
        y: { display: false },
      },
    } as any,
  });
}

function makePanel(canvas: HTMLCanvasElement, p: PanelCfg) {
  const [cl, ct, cw, ch] = p.canvas;
  const [al, at, ar, ab] = p.area;
  const black = [...p.clouds.flatMap(cloudPoints), ...p.outliers.map(([x, y]) => ({ x, y }))];
  const datasets: any[] = [
    { type: "line", data: [{ x: p.xr[0], y: 0 }, { x: p.xr[1], y: 0 }], borderColor: p.base, borderWidth: 1.6, pointRadius: 0, order: 5 },
    { type: "scatter", data: black, backgroundColor: "#000", borderWidth: 0, pointStyle: "rect", pointRadius: DOT_R, order: 3 },
    ...p.segments.map(([a, b, v]) => ({
      type: "line", data: [{ x: a, y: v }, { x: b, y: v }], borderColor: RED, borderWidth: 3.5, pointRadius: 0, order: 1, borderCapStyle: "butt",
    })),
    { type: "scatter", data: p.red.map(([x, y]) => ({ x, y })), backgroundColor: RED, borderWidth: 0, pointStyle: "rect", pointRadius: DOT_R, order: 0 },
  ];
  const deco = {
    id: "deco" + p.key,
    afterDraw(chart: any) {
      const ctx: CanvasRenderingContext2D = chart.ctx;
      const xs = chart.scales.x, ys = chart.scales.y;
      ctx.save();
      if (p.gene) {
        const g1 = xs.getPixelForValue(GENE_SPAN[0]);
        const g2 = xs.getPixelForValue(GENE_SPAN[1]);
        ctx.fillStyle = "#8a8a8a";
        ctx.fillRect(g1, p.gene.bar - ct - 3.3, g2 - g1, 6.6);
        ctx.fillStyle = "#000";
        ctx.font = 'italic bold 23px "Liberation Serif", "Times New Roman", serif';
        ctx.textAlign = "center";
        ctx.textBaseline = "alphabetic";
        ctx.fillText(GENE_NAME, (g1 + g2) / 2, p.gene.label - ct);
      }
      p.circles.forEach(([x, y]) => {
        ctx.strokeStyle = RED;
        ctx.lineWidth = 4;
        ctx.beginPath();
        ctx.ellipse(xs.getPixelForValue(x), ys.getPixelForValue(y), p.circleR[0], p.circleR[1], 0, 0, Math.PI * 2);
        ctx.stroke();
      });
      p.arrows.forEach(([[x1, y1], [x2, y2]]) =>
        drawArrow(ctx, xs.getPixelForValue(x1), ys.getPixelForValue(y1), xs.getPixelForValue(x2), ys.getPixelForValue(y2))
      );
      ctx.fillStyle = "#000";
      ctx.font = 'bold 30px "Liberation Serif", "Times New Roman", serif';
      ctx.textAlign = "left";
      ctx.textBaseline = "alphabetic";
      ctx.fillText(p.key, p.letter[0] - cl, p.letter[1] - ct);
      ctx.restore();
    },
  };
  return new Chart(canvas, {
    type: "scatter",
    data: { datasets },
    options: {
      responsive: false,
      maintainAspectRatio: false,
      animation: false,
      events: [],
      layout: { padding: { left: al - cl, top: at - ct, right: cl + cw - ar, bottom: ct + ch - ab } },
      plugins: { legend: { display: false }, tooltip: { enabled: false } },
      scales: {
        x: { type: "linear", min: p.xr[0], max: p.xr[1], display: false },
        y: {
          type: "linear",
          min: p.yr[0],
          max: p.yr[1],
          display: true,
          ticks: { display: false },
          border: { display: false },
          grid: { color: "#dcdcdc", lineWidth: 1.5, drawTicks: false },
          afterFit: (s: any) => {
            s.width = 0;
          },
          afterBuildTicks: (s: any) => {
            s.ticks = p.grid.map((v) => ({ value: v }));
          },
        },
      },
    } as any,
    plugins: [deco],
  });
}

// ================= COMPONENT =================
export default function App() {
  const refs = useRef<(HTMLCanvasElement | null)[]>([]);

  useEffect(() => {
    const charts: Chart[] = [];
    AXES.forEach((a, i) => {
      const c = refs.current[i];
      if (c) charts.push(makeAxis(c, a));
    });
    PANELS.forEach((p, j) => {
      const c = refs.current[AXES.length + j];
      if (c) charts.push(makePanel(c, p));
    });
    return () => charts.forEach((c) => c.destroy());
  }, []);

  return (
    <div style={{ position: "relative", width: 1121, height: 887, overflow: "hidden", background: "#fff" }}>
      <style>{`html,body{margin:0;padding:0;background:#fff;overflow:hidden}`}</style>
      {AXES.map((a, i) => (
        <div
          key={"ax" + i}
          style={{ position: "absolute", left: a.wrap[0], top: 0, width: a.wrap[1], height: a.height, overflow: "hidden" }}
        >
          <canvas
            ref={(el) => {
              refs.current[i] = el;
            }}
            width={a.canvasWidth}
            height={a.height}
            style={{ position: "absolute", left: a.canvasLeft - a.wrap[0], top: 0, width: a.canvasWidth, height: a.height }}
          />
        </div>
      ))}
      {PANELS.map((p, j) => (
        <canvas
          key={p.key}
          ref={(el) => {
            refs.current[AXES.length + j] = el;
          }}
          width={p.canvas[2]}
          height={p.canvas[3]}
          style={{ position: "absolute", left: p.canvas[0], top: p.canvas[1], width: p.canvas[2], height: p.canvas[3] }}
        />
      ))}
      {BOXES.map((b, k) => (
        <div
          key={"box" + k}
          style={{
            position: "absolute",
            left: b[0],
            top: b[1],
            width: b[2],
            height: b[3],
            border: "2px solid #000",
            boxSizing: "border-box",
            pointerEvents: "none",
          }}
        />
      ))}
    </div>
  );
}
